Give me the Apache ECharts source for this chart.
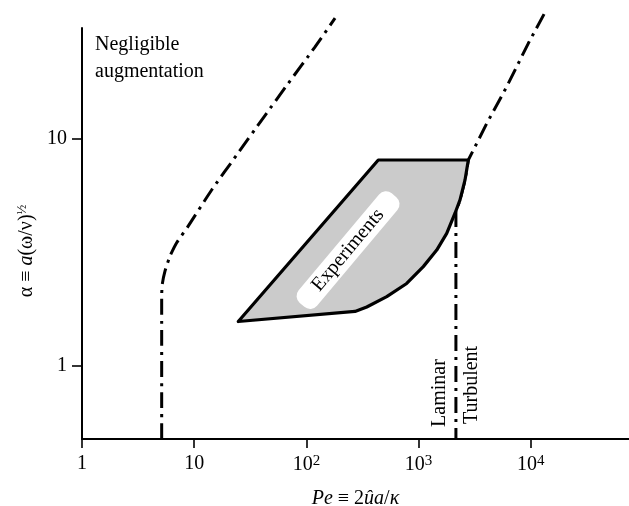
<!DOCTYPE html>
<html><head><meta charset="utf-8">
<script src="https://cdn.jsdelivr.net/npm/echarts@6/dist/echarts.min.js"></script>
<style>html,body{margin:0;padding:0;background:#fff}#c{width:629px;height:506px}</style>
</head><body><div id="c"></div>
<script>
// ---- data ----
const xTicks = [1, 10, 100, 1000, 10000];
const xTickLabels = ['1', '10', '10{s|2}', '10{s|3}', '10{s|4}'];
const yTicks = [1, 10];
const yTickLabels = ['1', '10'];

// left dash-dot boundary (negligible augmentation)
const negPe    = [5.13, 5.13, 5.20, 5.49, 6.09, 7.0, 8.75, 14.3, 23.9, 41.3, 69, 119, 180];
const negAlpha = [0.477, 2.05, 2.30, 2.62, 3.05, 3.50, 4.10, 5.96, 8.50, 12.4, 17.6, 25.4, 34.1];

// right dash-dot boundary (laminar / turbulent)
const turbPe    = [13120, 9500, 6100, 4045, 2773, 2592, 2339, 2150, 2150];
const turbAlpha = [35.5, 26.4, 17.0, 11.7, 8.08, 6.60, 5.39, 4.80, 0.477];

// experiments region outline
const expPe    = [437, 2773, 2592, 2339, 2111, 1780, 1450, 1101, 783, 520, 345, 271, 24.7];
const expAlpha = [8.08, 8.08, 6.60, 5.39, 4.71, 3.84, 3.24, 2.74, 2.31, 2.02, 1.82, 1.74, 1.57];

// annotation texts
const noteText  = ['Experiments', 'Laminar', 'Turbulent'];
const notePe    = [235, 1552, 2992];
const noteAlpha = [3.24, 0.760, 0.825];

// ---- chart ----
const FONT = 'Liberation Serif';
const chart = echarts.init(document.getElementById('c'), null, {renderer: 'canvas'});
const pair = (xs, ys) => xs.map((x, i) => [x, ys[i]]);
const dashDot = {color: '#000', width: 3, type: [16, 6, 3, 6], cap: 'butt'};
const fmt = (ticks, labels) => v => { const i = ticks.findIndex(t => Math.abs(t - v) / t < 1e-6); return i >= 0 ? labels[i] : ''; };

const option = {
  animation: false,
  backgroundColor: '#fff',
  grid: {left: 82, right: 0, top: 28, bottom: 67, containLabel: false, outerBoundsMode: 'none'},
  xAxis: {
    type: 'log', logBase: 10, min: 1, max: Math.pow(10, 4.875),
    axisLine: {onZero: false, lineStyle: {color: '#000', width: 2}},
    axisTick: {show: true, inside: false, length: 9, lineStyle: {color: '#000', width: 1.6}, customValues: xTicks},
    axisLabel: {customValues: xTicks, margin: 15, color: '#000', fontFamily: FONT, fontSize: 20,
      formatter: fmt(xTicks, xTickLabels),
      rich: {s: {fontFamily: FONT, fontSize: 15, color: '#000', verticalAlign: 'top', padding: [0, 0, 7, 0]}}},
    minorTick: {show: false}, splitLine: {show: false},
    name: '{i|Pe} ≡ 2{i|ûa}/{i|κ}', nameLocation: 'middle', nameGap: 50,
    nameTextStyle: {color: '#000', fontFamily: FONT, fontSize: 20,
      rich: {i: {fontStyle: 'italic', fontFamily: FONT, fontSize: 20, color: '#000'}}}
  },
  yAxis: {
    type: 'log', logBase: 10, min: Math.pow(10, -0.3216), max: Math.pow(10, 1.489),
    axisLine: {onZero: false, lineStyle: {color: '#000', width: 2}},
    axisTick: {show: true, inside: false, length: 10, lineStyle: {color: '#000', width: 1.6}, customValues: yTicks},
    axisLabel: {customValues: yTicks, margin: 15, color: '#000', fontFamily: FONT, fontSize: 20,
      formatter: fmt(yTicks, yTickLabels)},
    minorTick: {show: false}, splitLine: {show: false}
  },
  graphic: [
    {type: 'text', left: 95, top: 31, z: 100,
      style: {text: 'Negligible\naugmentation', fill: '#000', font: '20px "Liberation Serif"', lineHeight: 27}},
    {type: 'text', x: 27, y: 251, rotation: Math.PI / 2, z: 100,
      style: {text: '{n|α ≡ }{i|a}{n|(ω/ν)}{s|½}', align: 'center', verticalAlign: 'middle', fill: '#000',
        rich: {n: {fontFamily: FONT, fontSize: 20, fill: '#000'},
               i: {fontFamily: FONT, fontSize: 20, fontStyle: 'italic', fill: '#000'},
               s: {fontFamily: FONT, fontSize: 13, fill: '#000', verticalAlign: 'top', padding: [0, 0, 8, 0]}}}}
  ],
  series: [
    {type: 'line', data: pair(negPe, negAlpha), showSymbol: false, symbol: 'none', clip: false,
      smooth: 0.2, lineStyle: dashDot, z: 2, silent: true},
    {type: 'line', data: pair(turbPe, turbAlpha), showSymbol: false, symbol: 'none', clip: false,
      lineStyle: dashDot, z: 2, silent: true},
    {type: 'custom', coordinateSystem: 'cartesian2d', data: pair(expPe, expAlpha), z: 3, silent: true,
      renderItem: (params, api) => {
        if (params.dataIndex !== 0) return null;
        const pts = expPe.map((x, i) => api.coord([x, expAlpha[i]]));
        return {type: 'polygon', shape: {points: pts},
          style: {fill: '#cbcbcb', stroke: '#000', lineWidth: 3.2, lineJoin: 'round'}};
      }},
    {type: 'custom', coordinateSystem: 'cartesian2d', data: pair(notePe, noteAlpha), z: 5, silent: true,
      renderItem: (params, api) => {
        const i = params.dataIndex;
        const p = api.coord([notePe[i], noteAlpha[i]]);
        const isExp = i === 0;
        return {type: 'text', x: p[0], y: p[1], rotation: (isExp ? 50 : 90) * Math.PI / 180,
          style: Object.assign({text: noteText[i], fill: '#000', font: '20px "Liberation Serif"',
            align: 'center', verticalAlign: 'middle'},
            isExp ? {backgroundColor: '#fff', padding: [3, 21, 1, 21], borderRadius: 9} : {})};
      }}
  ]
};
chart.setOption(option);
</script>
</body></html>
